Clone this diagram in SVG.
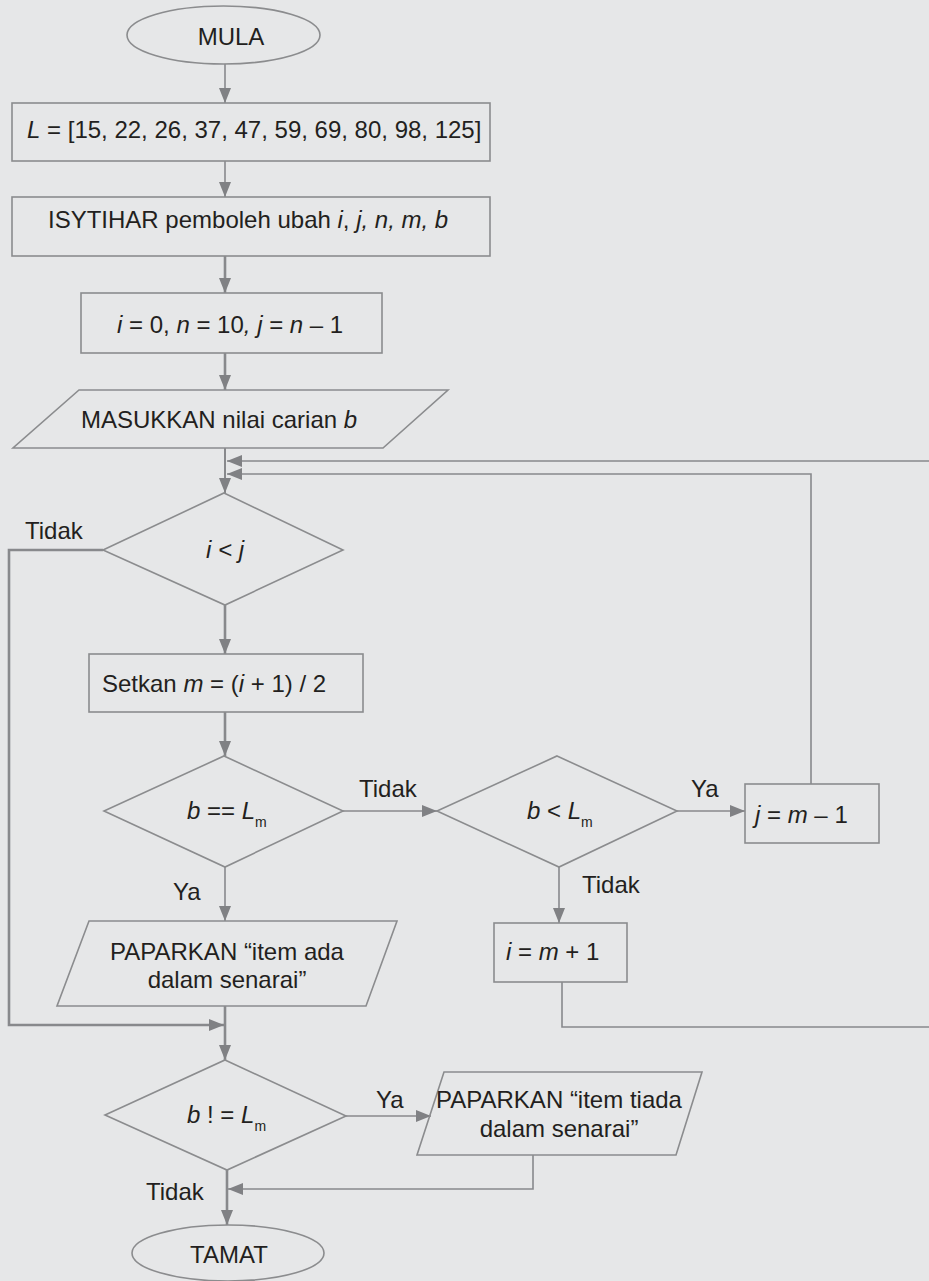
<svg xmlns="http://www.w3.org/2000/svg" width="929" height="1281" viewBox="0 0 929 1281">
<style>
.bg{fill:#e6e7e8}
.sh{fill:none;stroke:#8b8c8e;stroke-width:1.6}
.t{font-family:"Liberation Sans",Arial,Helvetica,sans-serif;font-size:24px;fill:#231f20}
.m{text-anchor:middle}
.i{font-style:italic}
.sub{font-size:14px}
.c{fill:none;stroke:#88898c;stroke-width:1.6}
.k{fill:none;stroke:#88898c;stroke-width:2.6}
</style>
<defs>
<marker id="ah" markerUnits="userSpaceOnUse" markerWidth="15" markerHeight="12" refX="15" refY="6" orient="auto">
<path d="M0,0 L15,6 L0,12 z" fill="#808184"/>
</marker>
</defs>
<rect class="bg" x="0" y="0" width="929" height="1281"/>

<g id="connectors">
<path class="c" d="M225,64 V103" marker-end="url(#ah)"/>
<path class="c" d="M225,161 V197" marker-end="url(#ah)"/>
<path class="k" d="M225,256 V293" marker-end="url(#ah)"/>
<path class="k" d="M225,353 V390" marker-end="url(#ah)"/>
<path class="c" d="M225,448 V493" marker-end="url(#ah)" style="stroke-width:2"/>
<path class="c" d="M562,982 V1027 H945 V461 H227" marker-end="url(#ah)"/>
<path class="c" d="M811,784 V474 H227" marker-end="url(#ah)"/>
<path class="k" d="M225,605 V654" marker-end="url(#ah)"/>
<path class="k" d="M103,550 H9 V1025 H224" marker-end="url(#ah)"/>
<path class="k" d="M225,712 V756" marker-end="url(#ah)"/>
<path class="c" d="M343,811 H437" marker-end="url(#ah)"/>
<path class="c" d="M677,811 H745" marker-end="url(#ah)"/>
<path class="c" d="M559,867 V923" marker-end="url(#ah)"/>
<path class="c" d="M225,867 V921" marker-end="url(#ah)"/>
<path class="k" d="M225,1006 V1060" marker-end="url(#ah)"/>
<path class="c" d="M346,1116 H431" marker-end="url(#ah)"/>
<path class="c" d="M533,1155 V1189 H228" marker-end="url(#ah)"/>
<path class="k" d="M227,1170 V1225" marker-end="url(#ah)"/>
<text class="t" x="25" y="539">Tidak</text>
<text class="t" x="359" y="797">Tidak</text>
<text class="t" x="691" y="797">Ya</text>
<text class="t" x="173" y="900">Ya</text>
<text class="t" x="582" y="893">Tidak</text>
<text class="t" x="376" y="1108">Ya</text>
<text class="t" x="146" y="1200">Tidak</text>
</g>

<g id="mula">
<ellipse class="sh" cx="223.5" cy="35" rx="96.5" ry="29"/>
<text class="t m" x="231" y="45">MULA</text>
</g>

<g id="senarai">
<rect class="sh" x="12" y="103" width="478" height="58"/>
<text class="t" x="27" y="138"><tspan class="i">L</tspan> = [15, 22, 26, 37, 47, 59, 69, 80, 98, 125]</text>
</g>

<g id="isytihar">
<rect class="sh" x="12" y="197" width="478" height="59"/>
<text class="t" x="48" y="228">ISYTIHAR pemboleh ubah <tspan class="i">i</tspan>, <tspan class="i">j, n, m, b</tspan></text>
</g>

<g id="awal">
<rect class="sh" x="81" y="293" width="301" height="60"/>
<text class="t" x="117" y="333"><tspan class="i">i</tspan> = 0, <tspan class="i">n</tspan> = 10<tspan class="i">, j</tspan> = <tspan class="i">n</tspan> – 1</text>
</g>

<g id="masukkan">
<polygon class="sh" points="79,390 448,390 383,448 13,448"/>
<text class="t" x="81" y="428">MASUKKAN nilai carian <tspan class="i">b</tspan></text>
</g>

<g id="dec-ij">
<polygon class="sh" points="224,493 343,550 225,605 103,550"/>
<text class="t m i" x="225" y="558">i &lt; j</text>
</g>

<g id="setkan">
<rect class="sh" x="89" y="654" width="274" height="58"/>
<text class="t" x="102" y="692">Setkan <tspan class="i">m</tspan> = (<tspan class="i">i</tspan> + 1) / 2</text>
</g>

<g id="dec-eq">
<polygon class="sh" points="224,756 343,811 225,867 104,811"/>
<text class="t" x="187" y="819"><tspan class="i">b</tspan> == <tspan class="i">L</tspan><tspan class="sub" dy="8">m</tspan></text>
</g>

<g id="dec-lt">
<polygon class="sh" points="557,756 677,811 559,867 437,811"/>
<text class="t" x="527" y="819"><tspan class="i">b</tspan> &lt; <tspan class="i">L</tspan><tspan class="sub" dy="8">m</tspan></text>
</g>

<g id="set-j">
<rect class="sh" x="745" y="784" width="134" height="59"/>
<text class="t" x="755" y="823"><tspan class="i">j</tspan> = <tspan class="i">m</tspan> – 1</text>
</g>

<g id="set-i">
<rect class="sh" x="494" y="923" width="133" height="59"/>
<text class="t" x="506" y="960"><tspan class="i">i</tspan> = <tspan class="i">m</tspan> + 1</text>
</g>

<g id="papar-ada">
<polygon class="sh" points="89,921 397,921 366,1006 57,1006"/>
<text class="t m" x="227" y="960">PAPARKAN “item ada</text>
<text class="t m" x="227" y="988">dalam senarai”</text>
</g>

<g id="dec-ne">
<polygon class="sh" points="225,1060 346,1116 227,1170 105,1115"/>
<text class="t" x="187" y="1123"><tspan class="i">b</tspan> ! = <tspan class="i">L</tspan><tspan class="sub" dy="8">m</tspan></text>
</g>

<g id="papar-tiada">
<polygon class="sh" points="444,1072 702,1072 676,1155 417,1155"/>
<text class="t m" x="559" y="1108">PAPARKAN “item tiada</text>
<text class="t m" x="559" y="1137">dalam senarai”</text>
</g>

<g id="tamat">
<ellipse class="sh" cx="228" cy="1253" rx="96" ry="28"/>
<text class="t m" x="229" y="1263">TAMAT</text>
</g>
</svg>
